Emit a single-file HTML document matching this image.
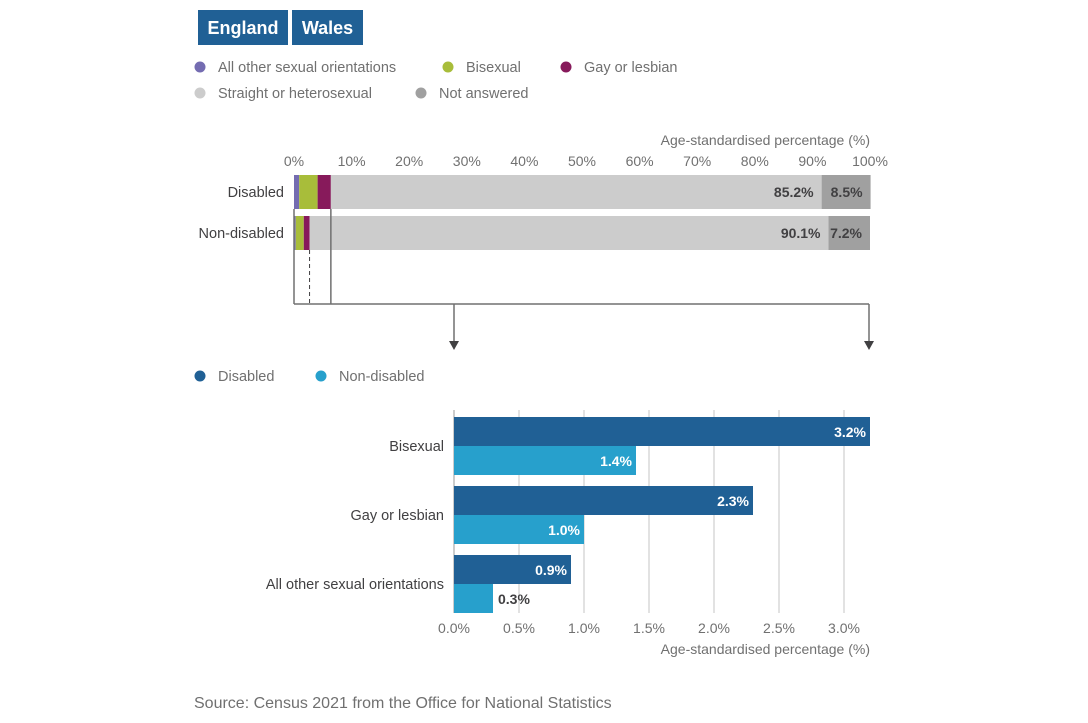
<!DOCTYPE html>
<html><head><meta charset="utf-8"><style>
body{margin:0;background:#fff;font-family:"Liberation Sans",sans-serif;}
svg text{font-family:"Liberation Sans",sans-serif;}
</style></head><body>
<svg id="c" width="1088" height="718" xmlns="http://www.w3.org/2000/svg">
<g><rect x="198" y="10" width="90" height="35" fill="#206095"/><text x="243" y="34" fill="#fff" font-size="18" font-weight="bold" text-anchor="middle">England</text></g>
<g><rect x="292" y="10" width="71" height="35" fill="#206095"/><text x="327.5" y="34" fill="#fff" font-size="18" font-weight="bold" text-anchor="middle">Wales</text></g>
<g id="leg1"></g>
<g id="top"></g>
<g id="bot"></g>
<text x="194" y="708" font-size="16" fill="#707070">Source: Census 2021 from the Office for National Statistics</text>
</svg>
<script>
const topCats=["Disabled","Non-disabled"];
const topSeries=["All other sexual orientations","Bisexual","Gay or lesbian","Straight or heterosexual","Not answered"];
const topColors=["#746cb1","#a8bd3a","#871a5b","#cccccc","#a0a0a0"];
const disabledVals=[0.9,3.2,2.3,85.2,8.5];
const nonDisabledVals=[0.3,1.4,1.0,90.1,7.2];
const topTicks=[0,10,20,30,40,50,60,70,80,90,100];
const botCats=["Bisexual","Gay or lesbian","All other sexual orientations"];
const botDisabled=[3.2,2.3,0.9];
const botNonDisabled=[1.4,1.0,0.3];
const botTicks=[0,0.5,1,1.5,2,2.5,3];
const NS="http://www.w3.org/2000/svg";
function mk(p,t,a,txt){const e=document.createElementNS(NS,t);for(const k in a)e.setAttribute(k,a[k]);if(txt!==undefined)e.textContent=txt;p.appendChild(e);return e;}
// legend
const leg=document.getElementById('leg1');
const lp=[[200,72],[448,72],[566,72],[200,98],[421,98]];
topSeries.forEach((s,i)=>{const g=mk(leg,'g',{});


mk(g,'circle',{cx:lp[i][0],cy:lp[i][1]-5,r:5.5,fill:topColors[i]});
mk(g,'text',{x:lp[i][0]+18,y:lp[i][1],'font-size':14.5,fill:'#707070'},s);});
// top chart
const T=document.getElementById('top');
const tx=v=>294+v*5.76;
mk(T,'text',{x:870,y:145,'font-size':14,fill:'#707070','text-anchor':'end'},'Age-standardised percentage (%)');
topTicks.forEach(t=>{const e=mk(T,'text',{x:tx(t),y:166,'font-size':14,fill:'#707070','text-anchor':'middle'},t+'%');

});
[disabledVals,nonDisabledVals].forEach((vals,r)=>{const y=175+r*41;let acc=0;
mk(T,'text',{x:284,y:y+22,'font-size':14.5,fill:'#414042','text-anchor':'end'},topCats[r]);
vals.forEach((v,i)=>{const b=mk(T,'rect',{x:tx(acc),y:y,width:Math.max(0,tx(acc+v)-tx(acc)),height:34,fill:topColors[i]});


if(i>=3){mk(T,'text',{x:tx(acc+v)-8,y:y+22,'font-size':14,'font-weight':'bold',fill:'#414042','text-anchor':'end'},v.toFixed(1)+'%');}
acc+=v;});});
const dSum=disabledVals.slice(0,3).reduce((a,b)=>a+b,0),nSum=nonDisabledVals.slice(0,3).reduce((a,b)=>a+b,0);
mk(T,'line',{x1:tx(0),y1:209,x2:tx(0),y2:304,stroke:'#707070','stroke-width':1.5});
mk(T,'line',{x1:tx(dSum),y1:209,x2:tx(dSum),y2:304,stroke:'#707070','stroke-width':1.5});
mk(T,'line',{x1:tx(nSum),y1:250,x2:tx(nSum),y2:304,stroke:'#414042','stroke-width':1,'stroke-dasharray':'4,3'});
mk(T,'line',{x1:tx(0),y1:304,x2:869,y2:304,stroke:'#707070','stroke-width':1.5});
[454,869].forEach(x=>{mk(T,'line',{x1:x,y1:304,x2:x,y2:342,stroke:'#707070','stroke-width':1.5});
mk(T,'path',{d:`M${x-5},341 L${x+5},341 L${x},350 Z`,fill:'#414042'});});
// bottom legend
[["Disabled","#206095",200],["Non-disabled","#27a0cc",321]].forEach(([n,c,x])=>{const g=mk(T,'g',{});


mk(g,'circle',{cx:x,cy:376,r:5.5,fill:c});mk(g,'text',{x:x+18,y:381,'font-size':14.5,fill:'#707070'},n);});
// bottom chart
const B=document.getElementById('bot');
const bx=v=>454+v*130;
botTicks.forEach(t=>{mk(B,'line',{x1:bx(t),y1:410,x2:bx(t),y2:613,stroke:t===0?'#bbb':'#d9d9d9','stroke-width':1.5});
const e=mk(B,'text',{x:bx(t),y:633,'font-size':14,fill:'#707070','text-anchor':'middle'},t.toFixed(1)+'%');

});
mk(B,'text',{x:870,y:654,'font-size':14,fill:'#707070','text-anchor':'end'},'Age-standardised percentage (%)');
botCats.forEach((c,i)=>{const y=417+i*69;
mk(B,'text',{x:444,y:y+34,'font-size':14.5,fill:'#414042','text-anchor':'end'},c);
[[botDisabled[i],'#206095'],[botNonDisabled[i],'#27a0cc']].forEach(([v,col],k)=>{const yy=y+k*29;
const b=mk(B,'rect',{x:bx(0),y:yy,width:bx(v)-bx(0),height:29,fill:col});


const inside=bx(v)-bx(0)>45;
mk(B,'text',{x:inside?bx(v)-4:bx(v)+5,y:yy+20,'font-size':14,'font-weight':'bold',fill:inside?'#fff':'#414042','text-anchor':inside?'end':'start'},v.toFixed(1)+'%');});});
</script>
</body></html>
